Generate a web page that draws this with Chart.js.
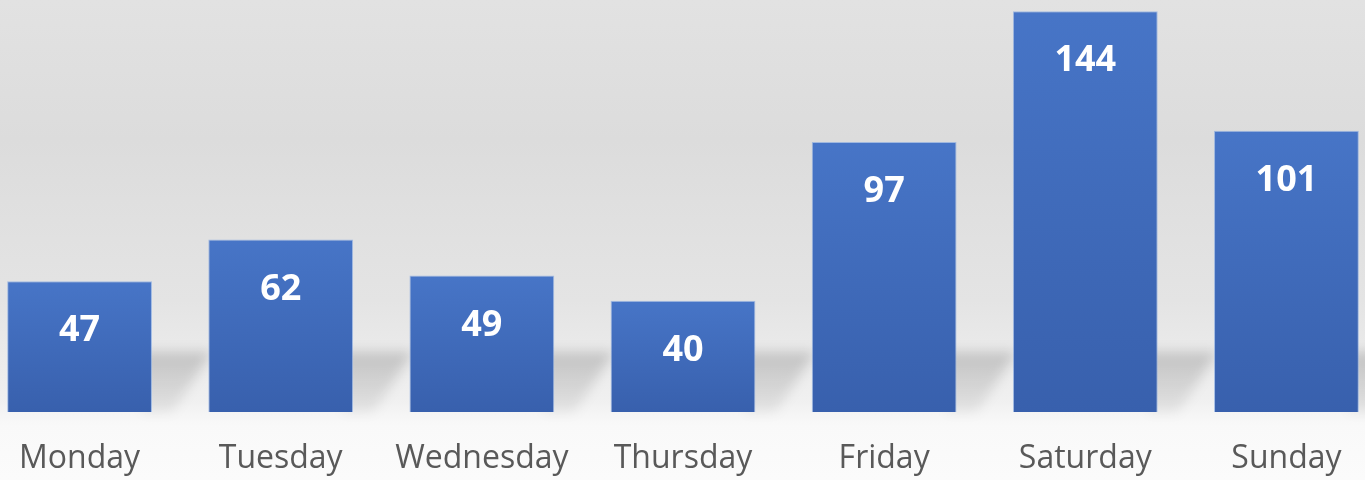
<!DOCTYPE html>
<html>
<head>
<meta charset="utf-8">
<script src="https://cdn.jsdelivr.net/npm/chart.js@4"></script>
<style>
  html, body { margin: 0; padding: 0; width: 1365px; height: 480px; overflow: hidden; }
  body { background: linear-gradient(to bottom, #e2e2e2 0px, #dcdcdc 140px, #e4e4e4 300px, #f0f0f0 400px, #f9f9f9 425px, #fbfbfb 480px); position: relative; }
  #wrap { position: absolute; left: -21px; top: 0; width: 1408px; height: 480px; }
</style>
</head>
<body>
<div id="wrap"><canvas id="c"></canvas></div>
<script>
const categories = ["Monday", "Tuesday", "Wednesday", "Thursday", "Friday", "Saturday", "Sunday"];
const values = [47, 62, 49, 40, 97, 144, 101];

function barGradient(ctx) {
  const chart = ctx.chart;
  if (!chart.chartArea || !chart.scales.y) return '#4169b8';
  const y = chart.scales.y;
  const top = y.getPixelForValue(ctx.raw);
  const bottom = y.getPixelForValue(0);
  const g = chart.ctx.createLinearGradient(0, top, 0, bottom);
  g.addColorStop(0, '#4775c7');
  g.addColorStop(1, '#3860ad');
  return g;
}

const shadowPlugin = {
  id: 'shadow',
  beforeDatasetsDraw(chart) {
    const c = chart.ctx;
    const meta = chart.getDatasetMeta(0);
    c.save();
    c.filter = 'blur(6px)';
    meta.data.forEach(bar => {
      const right = bar.x + bar.width / 2;
      const bottom = bar.base;
      const h = Math.min(60, bottom - bar.y);
      const g = c.createLinearGradient(0, bottom - h, 0, bottom);
      g.addColorStop(0, 'rgba(0,0,0,0.17)');
      g.addColorStop(1, 'rgba(0,0,0,0.06)');
      c.fillStyle = g;
      c.beginPath();
      c.moveTo(right - 10, bottom);
      c.lineTo(right - 10, bottom - h);
      c.lineTo(right + 60, bottom - h);
      c.lineTo(right + 20, bottom);
      c.closePath();
      c.fill();
    });
    c.restore();
  }
};

const labelPlugin = {
  id: 'vlabels',
  afterDatasetsDraw(chart) {
    const c = chart.ctx;
    const meta = chart.getDatasetMeta(0);
    c.save();
    c.fillStyle = '#ffffff';
    c.font = 'bold 36px "Open Sans"';
    c.textAlign = 'center';
    c.textBaseline = 'middle';
    meta.data.forEach((bar, i) => {
      c.fillText(String(values[i]), bar.x, bar.y + 50);
    });
    c.restore();
  }
};

new Chart(document.getElementById('c'), {
  type: 'bar',
  data: {
    labels: categories,
    datasets: [{
      data: values,
      backgroundColor: barGradient,
      borderColor: 'rgba(120,160,225,0.6)',
      borderWidth: 1,
      barPercentage: 0.72,
      categoryPercentage: 1.0
    }]
  },
  options: {
    responsive: true,
    maintainAspectRatio: false,
    animation: false,
    layout: { padding: { top: 0, left: 0, right: 0, bottom: 0 } },
    plugins: { legend: { display: false }, tooltip: { enabled: false } },
    scales: {
      x: {
        grid: { display: false, drawTicks: false },
        border: { display: false },
        ticks: { color: '#595959', font: { family: '"Open Sans"', size: 32 }, padding: 28, maxRotation: 0, autoSkip: false },
        afterFit(scale) { scale.height = 68; }
      },
      y: {
        display: false,
        min: 0,
        max: 148
      }
    }
  },
  plugins: [shadowPlugin, labelPlugin]
});
</script>
</body>
</html>
